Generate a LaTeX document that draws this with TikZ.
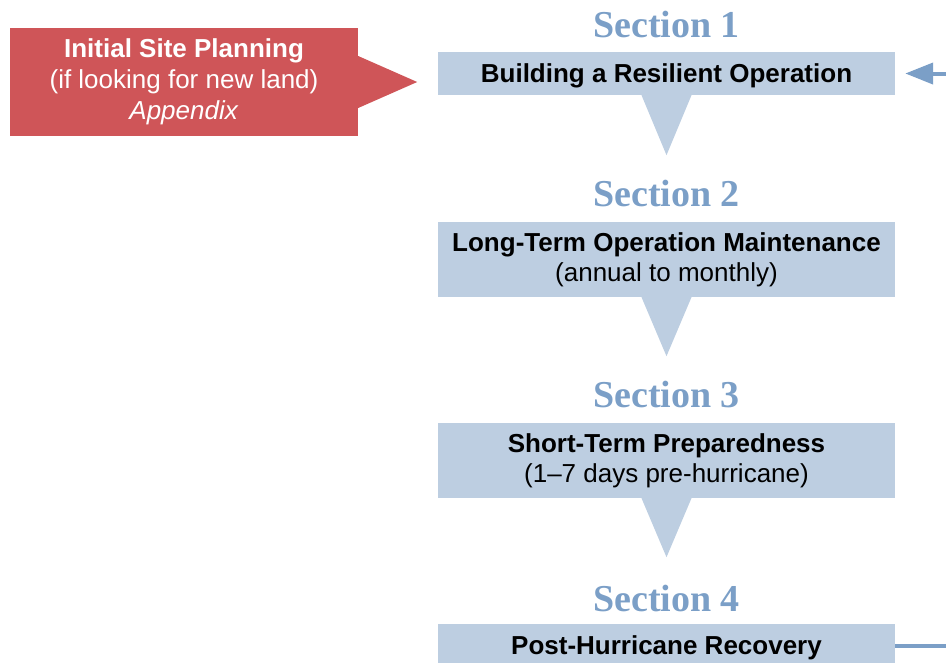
\documentclass[tikz,border=0pt]{standalone}
\usepackage{fontspec}
\setmainfont{Liberation Sans}
\newfontfamily\headfont{Liberation Serif}
\usetikzlibrary{arrows.meta}
\definecolor{planred}{HTML}{CF5558}
\definecolor{boxblue}{HTML}{BDCEE1}
\definecolor{headblue}{HTML}{7B9FC7}

\begin{document}
\begin{tikzpicture}[x=1pt,y=-1pt,
        secbox/.style={fill=boxblue,minimum width=457pt,inner sep=0pt,align=center,
            font=\fontsize{26}{30}\selectfont},
        onebox/.style={secbox,minimum height=43pt,text height=23pt},
        twobox/.style={secbox,minimum height=75pt},
        sechead/.style={anchor=base,text=headblue,font=\headfont\bfseries\fontsize{38}{40}\selectfont},
        pointer/.style={fill=boxblue},
        backline/.style={draw=headblue,line width=4pt,-{Triangle[length=28pt,width=21pt]}}
    ]
    \useasboundingbox (0,0) rectangle (946,662);
    \clip (0,0) rectangle (946,662);

    % appendix box
    \node[fill=planred,text=white,minimum width=348pt,minimum height=108pt,inner sep=0pt,
        align=center,font=\fontsize{26}{31}\selectfont] (plan) at (184,82)
        {\textbf{Initial Site Planning}\\(if looking for new land)\\\textit{Appendix}};
    \fill[planred] (plan.east) ++(0,-26) -- ++(59,26) -- ++(-59,26) -- cycle;

    % sections
    \node[onebox] (s1) at (666.5,73.5) {\textbf{Building a Resilient Operation}};
    \node[twobox] (s2) at (666.5,259.5) {\textbf{Long-Term Operation Maintenance}\\(annual to monthly)};
    \node[twobox] (s3) at (666.5,460.5) {\textbf{Short-Term Preparedness}\\(1–7 days pre-hurricane)};
    \node[onebox] (s4) at (666.5,645.5) {\textbf{Post-Hurricane Recovery}};

    \node[sechead] (h1) at (666.5,37) {Section 1};
    \node[sechead] (h2) at (666.5,206) {Section 2};
    \node[sechead] (h3) at (666.5,407) {Section 3};
    \node[sechead] (h4) at (666.5,611) {Section 4};

    \fill[pointer] (s1.south) ++(-25,0) -- ++(50,0) -- ++(-25,60) -- cycle;
    \fill[pointer] (s2.south) ++(-25,0) -- ++(50,0) -- ++(-25,59) -- cycle;
    \fill[pointer] (s3.south) ++(-25,0) -- ++(50,0) -- ++(-25,59) -- cycle;

    % back to the start
    \draw[backline] (s4.east) -- ++(80,0) |- ([xshift=10pt]s1.east);
\end{tikzpicture}
\end{document}
